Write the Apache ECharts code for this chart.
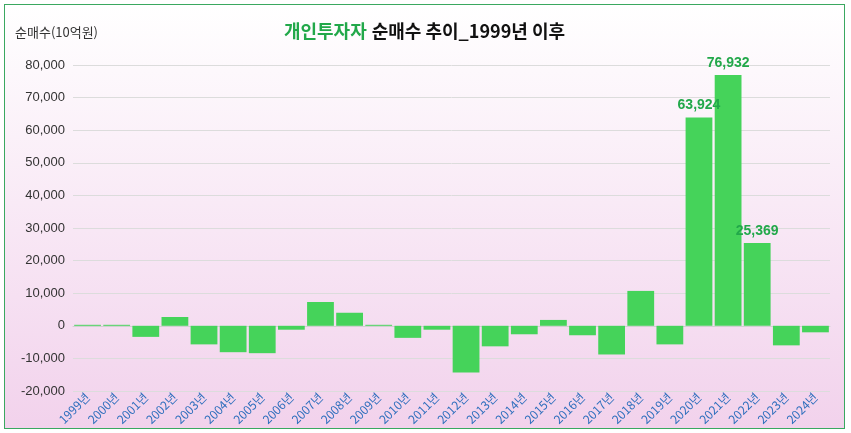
<!DOCTYPE html>
<html><head><meta charset="utf-8">
<script src="https://cdn.jsdelivr.net/npm/echarts@6/dist/echarts.min.js"></script>
<style>
html,body{margin:0;padding:0;background:#fff;}
#wrap{position:absolute;left:4px;top:4px;width:839px;height:423px;border:1.5px solid #3aa860;background:linear-gradient(#ffffff,#f2d2ec);}
#c{width:100%;height:100%;}
</style></head><body>
<div id="wrap"><div id="c"></div></div>
<script>
const years = ['1999년','2000년','2001년','2002년','2003년','2004년','2005년','2006년','2007년','2008년','2009년','2010년','2011년','2012년','2013년','2014년','2015년','2016년','2017년','2018년','2019년','2020년','2021년','2022년','2023년','2024년'];
const netBuy = [300,300,-3400,2700,-5700,-8100,-8400,-1200,7300,4000,300,-3700,-1200,-14300,-6300,-2600,1800,-2900,-8800,10700,-5700,63924,76932,25369,-6000,-2000];
const labeled = ['2020년','2021년','2022년'];
const yTicks = {min:-20000,max:80000,interval:10000};
const chart = echarts.init(document.getElementById('c'));
chart.setOption({
  animation:false,
  title:{text:'{g|개인투자자} {b|순매수 추이_1999년 이후}',left:'center',top:12,
    textStyle:{rich:{g:{color:'#22a84a',fontSize:18,fontWeight:'bold',fontFamily:'Noto Sans CJK KR'},b:{color:'#111',fontSize:18,fontWeight:'bold',fontFamily:'Noto Sans CJK KR'}}}},
  grid:{left:68,right:14,top:60,bottom:6},
  xAxis:{type:'category',data:years,axisLine:{onZero:true,lineStyle:{color:'#d0d0d0'}},axisTick:{show:false},
    axisLabel:{rotate:45,color:'#2e6fbd',fontSize:12,interval:0,margin:4,fontFamily:'Noto Sans CJK KR'}},
  yAxis:{type:'value',min:yTicks.min,max:yTicks.max,interval:yTicks.interval,
    name:'순매수(10억원)',nameLocation:'end',nameGap:26,nameTextStyle:{color:'#333',fontSize:13,align:'left',padding:[0,0,0,-58],fontFamily:'Noto Sans CJK KR'},
    axisLabel:{color:'#333',fontSize:13,formatter:v=>v.toLocaleString('en-US')},
    splitLine:{lineStyle:{color:'#dcdcdc'}}},
  series:[{type:'bar',data:netBuy.map((v,i)=>({value:v,label:{show:labeled.includes(years[i])}})),
    barCategoryGap:'8%',itemStyle:{color:'#45d35a'},
    label:{position:'top',color:'#22a84a',fontSize:14,fontWeight:'bold',formatter:p=>p.value.toLocaleString('en-US')}}]
});
</script></body></html>
